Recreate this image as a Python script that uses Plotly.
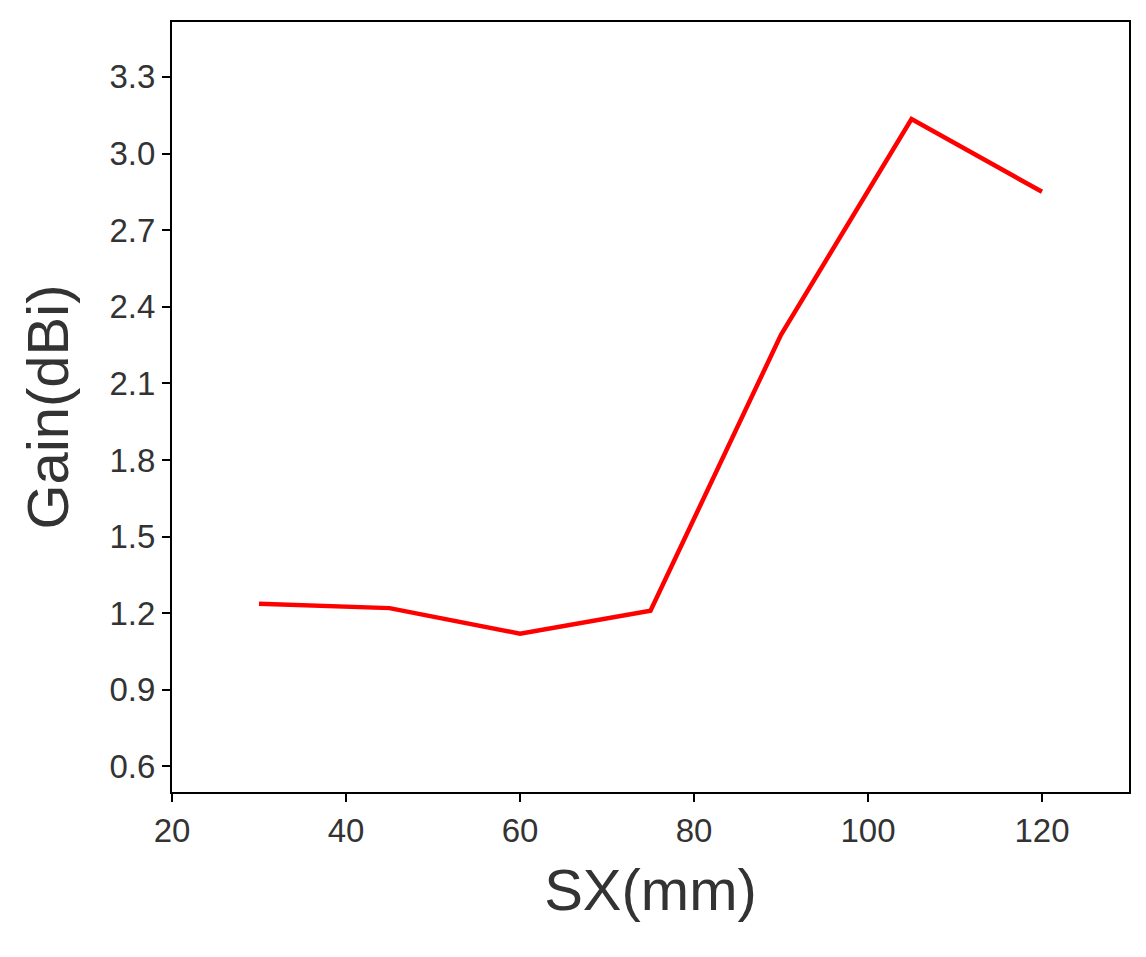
import plotly.graph_objects as go

sx = [30, 45, 60, 75, 90, 105, 120]
gain = [1.237, 1.22, 1.12, 1.21, 2.29, 3.135, 2.85]
yticks = [0.6, 0.9, 1.2, 1.5, 1.8, 2.1, 2.4, 2.7, 3.0, 3.3]
ytick_text = ["0.6", "0.9", "1.2", "1.5", "1.8", "2.1", "2.4", "2.7", "3.0", "3.3"]
xticks = [20, 40, 60, 80, 100, 120]

fig = go.Figure(go.Scatter(x=sx, y=gain, mode="lines", line=dict(color="#ff0000", width=4.5)))
font = dict(family="Liberation Sans, Arial", color="#333333")
axis_common = dict(showgrid=False, zeroline=False, showline=True, linecolor="black", linewidth=2,
                   mirror=True, ticks="outside", ticklen=8, tickwidth=2, tickcolor="black",
                   tickfont=dict(size=33, **font))
fig.update_layout(
    width=1146, height=957, plot_bgcolor="white", paper_bgcolor="white", showlegend=False,
    margin=dict(l=164, r=25, t=12, b=173),
    xaxis=dict(range=[20, 130], tickvals=xticks, title=dict(text="SX(mm)", font=dict(size=58, **font), standoff=22), **axis_common),
    yaxis=dict(range=[0.5, 3.515], tickvals=yticks, ticktext=ytick_text, title=dict(text="Gain(dBi)", font=dict(size=58, **font), standoff=22), **axis_common),
)
fig.write_html("out.html")
